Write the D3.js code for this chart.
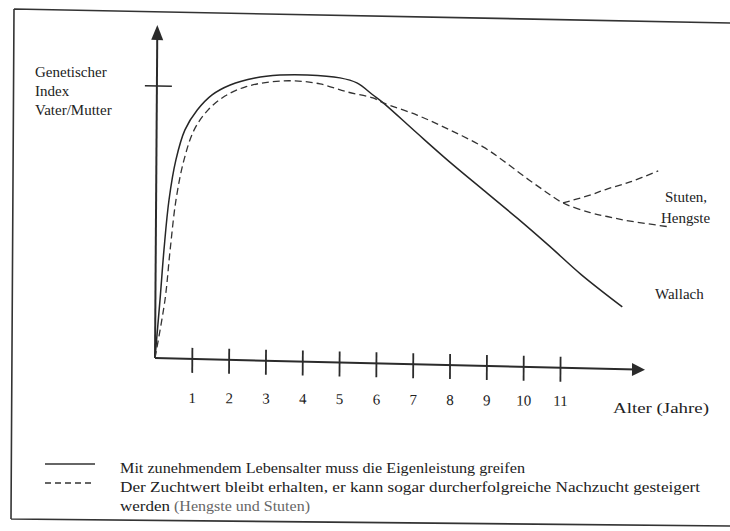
<!DOCTYPE html>
<html><head><meta charset="utf-8">
<script src="https://cdn.jsdelivr.net/npm/d3@7"></script>
<style>
html,body{margin:0;padding:0;background:#fff;}
svg{display:block;}
text{font-family:"Liberation Serif","Times New Roman",serif;fill:#222;}
</style></head>
<body>
<svg id="c" width="730" height="531"></svg>
<script>
// ---- data ----
const ticks = [1,2,3,4,5,6,7,8,9,10,11];
const solidYears  = [0,0.125,0.223,0.35,0.53,0.77,1.10,1.50,1.99,2.66,3.34,4.08,4.97,5.43,5.87,6.15,7.07,7.97,8.88,9.81,10.7,11.55,12.68];
const solidValues = [0,21.4,39.8,58.2,73.0,84.1,91.5,97.2,101.0,103.8,105.1,105.4,104.6,102.9,98.6,95.8,85.0,74.6,64.7,54.6,44.5,34.5,22.9];
const dashYears   = [0,0.26,0.39,0.54,0.75,1.02,1.39,1.85,2.39,3.07,3.75,4.43,5.17,5.87,6.15,7.07,7.97,8.87,9.42,9.96,10.51,11.05,11.79,12.25,12.88,13.97];
const dashValues  = [0,21.4,39.8,58.3,73.1,84.2,91.6,96.9,100.4,102.5,103.1,102.2,99.5,97.5,95.8,91.6,86.4,80.5,75.6,70.3,65.2,60.6,57.3,56.0,54.5,52.7];
const branchYears  = [11.05,11.78,12.24,12.87,13.63];
const branchValues = [60.6,63.7,66.1,68.9,73.2];
const yLabel = ["Genetischer","Index","Vater/Mutter"];
const xTitle = "Alter (Jahre)";
const seriesLabels = {stuten:["Stuten,","Hengste"], wallach:"Wallach"};
const legendSolid = "Mit zunehmendem Lebensalter muss die Eigenleistung greifen";
const legendDash1 = "Der Zuchtwert bleibt erhalten, er kann sogar durcherfolgreiche Nachzucht gesteigert";
const legendDash2a = "werden ";
const legendDash2b = "(Hengste und Stuten)";

const svg = d3.select("#c");
const ink = "#2b2b2b";
function skew(b,c,ox,oy){ return `matrix(1,${b},${c},1,${-c*oy},${-b*ox})`; }

// frame (scanned page border)
svg.append("path").attr("d","M14,9 L732,23 M14,9 L11,519 M11,519 L732,526")
  .attr("stroke","#333").attr("stroke-width",1.6).attr("fill","none");

const x = d3.scaleLinear().domain([0,11]).range([155,560]);
const y = d3.scaleLinear().domain([0,100]).range([358,86]);

const g = svg.append("g").attr("transform", skew(0.024,-0.007,155,358));

// axes
g.append("line").attr("x1",x(0)).attr("y1",y(0)).attr("x2",x(0)).attr("y2",38)
  .attr("stroke",ink).attr("stroke-width",2);
g.append("path").attr("d",`M${x(0)},25 L${x(0)-6},40 L${x(0)+6},40 Z`).attr("fill",ink);
g.append("line").attr("x1",x(0)).attr("y1",y(0)).attr("x2",636).attr("y2",y(0))
  .attr("stroke",ink).attr("stroke-width",2);
g.append("path").attr("d",`M645,${y(0)} L632,${y(0)-6.5} L632,${y(0)+6.5} Z`).attr("fill",ink);
// y tick
g.append("line").attr("x1",x(0)-12).attr("x2",x(0)+15).attr("y1",y(100)).attr("y2",y(100))
  .attr("stroke",ink).attr("stroke-width",1.5);

// x ticks via d3 axis
const ax = g.append("g").attr("transform",`translate(0,${y(0)})`)
  .call(d3.axisBottom(x).tickValues(ticks).tickSizeInner(14).tickSizeOuter(0).tickFormat(""));
ax.select(".domain").remove();
ax.selectAll(".tick line").attr("y1",-11).attr("stroke",ink).attr("stroke-width",1.8);

// curves
const line = d3.line().x(d=>x(d[0])).y(d=>y(d[1])).curve(d3.curveCatmullRom.alpha(0.5));
g.append("path").attr("d",line(d3.zip(solidYears,solidValues)))
  .attr("fill","none").attr("stroke","#262626").attr("stroke-width",1.5);
g.append("path").attr("d",line(d3.zip(dashYears,dashValues)))
  .attr("fill","none").attr("stroke","#333").attr("stroke-width",1.3).attr("stroke-dasharray","7,4");
g.append("path").attr("d",line(d3.zip(branchYears,branchValues)))
  .attr("fill","none").attr("stroke","#333").attr("stroke-width",1.3).attr("stroke-dasharray","7,4");

// tick labels
const lg = svg.append("g").attr("transform", skew(0.008,0,155,358));
const al = lg.append("g").attr("transform",`translate(0,${y(0)})`)
  .call(d3.axisBottom(x).tickValues(ticks).tickSize(0).tickPadding(34));
al.select(".domain").remove();
al.selectAll("text").attr("font-size",15).attr("fill","#222")
  .style("font-family",'"Liberation Serif",serif');

// axis titles
svg.append("text").attr("x",613).attr("y",413).attr("font-size",15)
  .attr("textLength",96).attr("lengthAdjust","spacingAndGlyphs").text(xTitle);
svg.selectAll("text.yl").data(yLabel).enter().append("text").attr("class","yl")
  .attr("x",35).attr("y",(d,i)=>77+i*19).attr("font-size",15).text(d=>d);

// series labels
svg.append("text").attr("x",665).attr("y",202).attr("font-size",15).text(seriesLabels.stuten[0]);
svg.append("text").attr("x",661).attr("y",223).attr("font-size",15).text(seriesLabels.stuten[1]);
svg.append("text").attr("x",655).attr("y",299).attr("font-size",15).text(seriesLabels.wallach);

// legend
const leg = svg.append("g");
leg.append("line").attr("x1",45).attr("x2",95).attr("y1",464).attr("y2",464)
  .attr("stroke","#333").attr("stroke-width",1.3);
leg.append("line").attr("x1",45).attr("x2",95).attr("y1",483).attr("y2",483)
  .attr("stroke","#333").attr("stroke-width",1.3).attr("stroke-dasharray","6,4");
leg.append("text").attr("x",120).attr("y",473).attr("font-size",14)
  .attr("textLength",405).attr("lengthAdjust","spacingAndGlyphs").text(legendSolid);
leg.append("text").attr("x",120).attr("y",492).attr("font-size",14)
  .attr("textLength",580).attr("lengthAdjust","spacingAndGlyphs").text(legendDash1);
leg.append("text").attr("x",120).attr("y",511).attr("font-size",14)
  .attr("textLength",50).attr("lengthAdjust","spacingAndGlyphs").text(legendDash2a.trim());
leg.append("text").attr("x",174).attr("y",511).attr("font-size",14).attr("fill","#666").style("fill","#666")
  .attr("textLength",136).attr("lengthAdjust","spacingAndGlyphs").text(legendDash2b);
</script>
</body></html>
